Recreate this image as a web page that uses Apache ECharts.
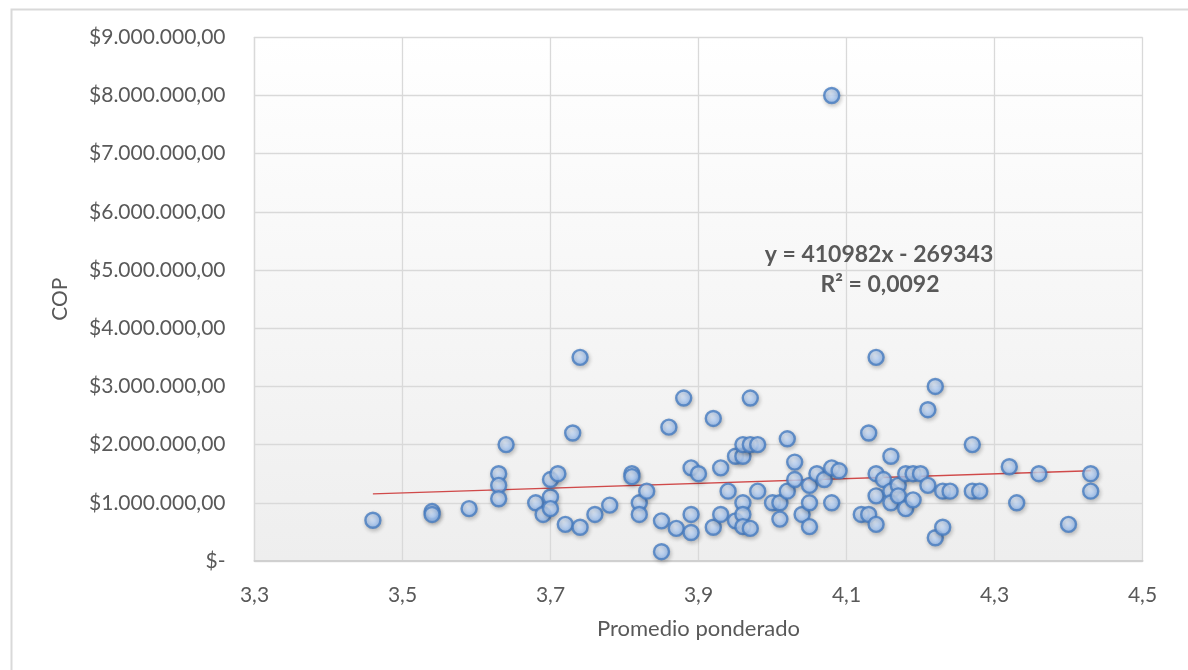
<!DOCTYPE html>
<html>
<head>
<meta charset="utf-8">
<script src="https://cdn.jsdelivr.net/npm/echarts@6/dist/echarts.min.js"></script>
<style>
html,body{margin:0;padding:0;background:#fff;}
#c{width:1188px;height:670px;}
</style>
</head>
<body>
<div id="c"></div>
<script>
// Data
const xVals = [3.46,3.54,3.54,3.59,3.63,3.63,3.63,3.64,3.68,3.69,3.70,3.70,3.70,3.71,3.72,3.73,3.74,3.74,3.76,3.78,
  3.81,3.81,3.82,3.82,3.83,3.85,3.85,3.86,3.87,3.88,3.89,3.89,3.89,3.90,3.92,3.92,3.93,3.93,3.94,3.95,3.95,
  3.96,3.96,3.96,3.96,3.96,3.97,3.97,3.97,3.98,3.98,4.00,4.01,4.01,4.02,4.02,4.03,4.03,4.04,4.05,4.05,4.05,
  4.06,4.07,4.08,4.08,4.08,4.09,4.12,4.13,4.13,4.14,4.14,4.14,4.14,4.15,4.16,4.16,4.16,4.17,4.17,4.18,4.18,
  4.19,4.19,4.20,4.21,4.21,4.22,4.22,4.23,4.23,4.24,4.27,4.27,4.28,4.32,4.33,4.36,4.40,4.43,4.43];
const yVals = [700000,850000,800000,900000,1500000,1300000,1070000,2000000,1000000,800000,1100000,900000,1400000,1500000,630000,2200000,580000,3500000,800000,960000,
  1500000,1450000,1000000,800000,1200000,690000,160000,2300000,560000,2800000,1600000,800000,490000,1500000,2450000,580000,1600000,800000,1200000,1800000,690000,
  1800000,2000000,1000000,800000,590000,2000000,2800000,560000,2000000,1200000,1000000,1000000,720000,2100000,1200000,1700000,1400000,800000,1300000,1000000,590000,
  1500000,1400000,1600000,1000000,8000000,1550000,800000,800000,2200000,3500000,1500000,1120000,630000,1400000,1800000,1200000,1000000,1300000,1120000,1500000,900000,
  1500000,1050000,1500000,1300000,2600000,3000000,400000,580000,1200000,1200000,2000000,1200000,1200000,1620000,1000000,1500000,630000,1500000,1200000];
const xTicks = ['3,3','3,5','3,7','3,9','4,1','4,3','4,5'];
const trendSlope = 410982;
const trendIntercept = -269343;
const equationText = 'y = 410982x - 269343';
const r2Text = 'R² = 0,0092';
const xTitle = 'Promedio ponderado';
const yTitle = 'COP';

const points = xVals.map((x,i)=>[x,yVals[i]]);
const xMin = Math.min(...xVals), xMax = Math.max(...xVals);
const trend = [[xMin, trendSlope*xMin+trendIntercept],[xMax, trendSlope*xMax+trendIntercept]];

function fmtCOP(v){
  if (v === 0) return '$-';
  const s = Math.round(v).toString().replace(/\B(?=(\d{3})+(?!\d))/g,'.');
  return '$' + s + ',00';
}
const FONT = 'Lato, "Open Sans", sans-serif';
const chart = echarts.init(document.getElementById('c'), null, {renderer:'canvas'});
chart.setOption({
  animation:false,
  backgroundColor:'#ffffff',
  grid:{left:254.5, right:45.5, top:37.3, bottom:109, show:true, borderWidth:0,
    backgroundColor:new echarts.graphic.LinearGradient(0,0,0,1,[{offset:0,color:'#ffffff'},{offset:1,color:'#eeeeee'}])},
  xAxis:{type:'value', min:3.3, max:4.5, interval:0.2,
    axisLine:{show:true, lineStyle:{color:'#d0d0d0', width:2}},
    axisTick:{show:false},
    splitLine:{show:true, lineStyle:{color:'#d9d9d9', width:1.3}},
    axisLabel:{color:'#595959', fontSize:21, fontFamily:FONT, margin:24,
      formatter:(v)=>{const i=Math.round((v-3.3)/0.2); return xTicks[i]||'';}},
    name:xTitle, nameLocation:'middle', nameGap:57,
    nameTextStyle:{color:'#595959', fontSize:22, fontFamily:FONT}
  },
  yAxis:{type:'value', min:0, max:9000000, interval:1000000,
    axisLine:{show:true, lineStyle:{color:'#d9d9d9', width:1.3}},
    axisTick:{show:false},
    splitLine:{show:true, lineStyle:{color:'#d9d9d9', width:1.3}},
    axisLabel:{color:'#595959', fontSize:21, fontFamily:FONT, margin:29, formatter:fmtCOP},
    name:yTitle, nameLocation:'middle', nameGap:184,
    nameTextStyle:{color:'#595959', fontSize:21, fontFamily:FONT}
  },
  graphic:[
    {type:'rect', left:9, top:7, shape:{width:1178, height:700}, silent:true, z:-10,
      style:{fill:'none', stroke:'#d9d9d9', lineWidth:2}},
    {type:'text', x:879, y:255, z:100, style:{text:equationText, fill:'#595959', font:'bold 23px '+FONT, textAlign:'center', textVerticalAlign:'middle'}},
    {type:'text', x:880, y:285, z:100, style:{text:r2Text, fill:'#595959', font:'bold 23px '+FONT, textAlign:'center', textVerticalAlign:'middle'}}
  ],
  series:[
    {type:'line', data:trend, symbol:'none', z:3,
      lineStyle:{color:'#d04a4a', width:1.3}},
    {type:'scatter', data:points, symbol:'circle', symbolSize:15, z:4,
      itemStyle:{
        color:new echarts.graphic.RadialGradient(0.4,0.35,0.7,[{offset:0,color:'#e2eeff'},{offset:1,color:'#86b3f0'}]),
        borderColor:'#467cc0', borderWidth:2.4,
        shadowColor:'rgba(0,0,0,0.25)', shadowBlur:4, shadowOffsetX:1, shadowOffsetY:2}
    }
  ]
});
</script>
</body>
</html>
